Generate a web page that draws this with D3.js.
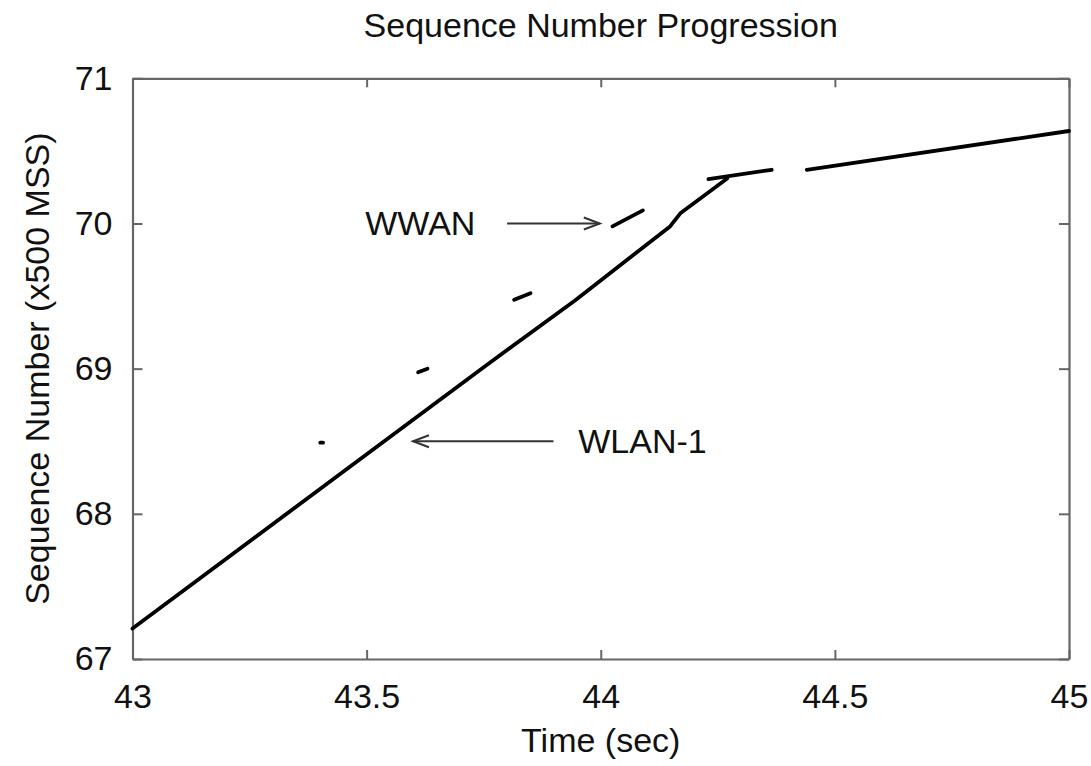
<!DOCTYPE html>
<html>
<head>
<meta charset="utf-8">
<script src="https://cdn.jsdelivr.net/npm/d3@7"></script>
<style>
  html, body { margin: 0; padding: 0; background: #fff; }
  text { font-family: "Liberation Sans", Arial, Helvetica, sans-serif; fill: #111; }
</style>
</head>
<body>
<svg id="chart" width="1091" height="766"></svg>
<script>
// ---- data ----
const xTicks = [43, 43.5, 44, 44.5, 45];
const yTicks = [67, 68, 69, 70, 71];
const xTickLabels = ["43", "43.5", "44", "44.5", "45"];
const yTickLabels = ["67", "68", "69", "70", "71"];

// WLAN-1 sequence progression (time sec, seq x500 MSS)
const wlanTime = [43.0, 43.75, 43.945, 44.148, 44.17, 44.27];
const wlanSeq  = [67.21, 69.01, 69.47, 69.98, 70.07, 70.31];

// WWAN segments: each segment = [startTime, startSeq, endTime, endSeq]
const wwanStartTime = [43.401, 43.610, 43.815, 44.025, 44.230, 44.440];
const wwanStartSeq  = [68.490, 68.975, 69.475, 69.980, 70.305, 70.370];
const wwanEndTime   = [43.407, 43.630, 43.850, 44.090, 44.365, 45.000];
const wwanEndSeq    = [68.490, 69.000, 69.520, 70.090, 70.370, 70.637];

// annotations
const annLabels   = ["WWAN", "WLAN-1"];
const annTextX    = [43.497, 43.952];
const annTextY    = [70.0, 68.5];
const annArrowX0  = [43.800, 43.899];
const annArrowX1  = [43.998, 43.599];
const annArrowY   = [70.0, 68.5];

const titleText = "Sequence Number Progression";
const xLabelText = "Time (sec)";
const yLabelText = "Sequence Number (x500 MSS)";

// ---- layout ----
const W = 1091, H = 766;
const margin = { left: 132.5, top: 78.3, right: 22, bottom: 107 };
const iw = W - margin.left - margin.right;
const ih = H - margin.top - margin.bottom;

const svg = d3.select("#chart");
const g = svg.append("g").attr("transform", `translate(${margin.left},${margin.top})`);

const x = d3.scaleLinear().domain([43, 45]).range([0, iw]);
const y = d3.scaleLinear().domain([67, 71]).range([ih, 0]);

const axisColor = "#666";
const fs = 34;

// axes
const axBottom = g.append("g").attr("transform", `translate(0,${ih})`)
  .call(d3.axisBottom(x).tickValues(xTicks).tickFormat((d, i) => xTickLabels[i])
    .tickSizeInner(-9).tickSizeOuter(0).tickPadding(25));
const axLeft = g.append("g")
  .call(d3.axisLeft(y).tickValues(yTicks).tickFormat((d, i) => yTickLabels[i])
    .tickSizeInner(-10).tickSizeOuter(0).tickPadding(20));
const axTop = g.append("g")
  .call(d3.axisTop(x).tickValues(xTicks).tickFormat("").tickSizeInner(-9).tickSizeOuter(0));
const axRight = g.append("g").attr("transform", `translate(${iw},0)`)
  .call(d3.axisRight(y).tickValues(yTicks).tickFormat("").tickSizeInner(-10).tickSizeOuter(0));

[axBottom, axLeft, axTop, axRight].forEach(a => {
  a.select(".domain").attr("stroke", axisColor).attr("stroke-width", 2.2);
  a.selectAll(".tick line").attr("stroke", axisColor).attr("stroke-width", 2);
  a.selectAll(".tick text").style("font-size", fs + "px").attr("fill", "#111")
    .style("font-family", '"Liberation Sans", Arial, sans-serif');
});

// lines
const line = d3.line().x(d => x(d[0])).y(d => y(d[1]));
const wlan = wlanTime.map((t, i) => [t, wlanSeq[i]]);
g.append("path").datum(wlan).attr("d", line)
  .attr("fill", "none").attr("stroke", "#000").attr("stroke-width", 3.8)
  .attr("stroke-linejoin", "round").attr("stroke-linecap", "round");

const wwanSegs = wwanStartTime.map((t, i) => [[t, wwanStartSeq[i]], [wwanEndTime[i], wwanEndSeq[i]]]);
g.selectAll("path.wwan").data(wwanSegs).join("path").attr("class", "wwan")
  .attr("d", line).attr("fill", "none").attr("stroke", "#000").attr("stroke-width", 3.8)
  .attr("stroke-linecap", "round");

// annotations
annLabels.forEach((lab, i) => {
  g.append("text").attr("x", x(annTextX[i])).attr("y", y(annTextY[i]))
    .attr("dy", "0.35em").style("font-size", fs + "px").text(lab);
  const x0 = x(annArrowX0[i]), x1 = x(annArrowX1[i]), yy = y(annArrowY[i]);
  g.append("line").attr("x1", x0).attr("x2", x1).attr("y1", yy).attr("y2", yy)
    .attr("stroke", "#333").attr("stroke-width", 2);
  const dir = Math.sign(x1 - x0);
  g.append("path")
    .attr("d", `M${x1 - dir * 16},${yy - 6} L${x1},${yy} L${x1 - dir * 16},${yy + 6}`)
    .attr("fill", "none").attr("stroke", "#333").attr("stroke-width", 2);
});

// titles
svg.append("text").attr("x", margin.left + iw / 2).attr("y", 37)
  .attr("text-anchor", "middle").style("font-size", fs + "px").text(titleText);
svg.append("text").attr("x", margin.left + iw / 2).attr("y", 752)
  .attr("text-anchor", "middle").style("font-size", fs + "px").text(xLabelText);
svg.append("text").attr("transform", `translate(49,${margin.top + ih / 2}) rotate(-90)`)
  .attr("text-anchor", "middle").style("font-size", fs + "px").text(yLabelText);
</script>
</body>
</html>
